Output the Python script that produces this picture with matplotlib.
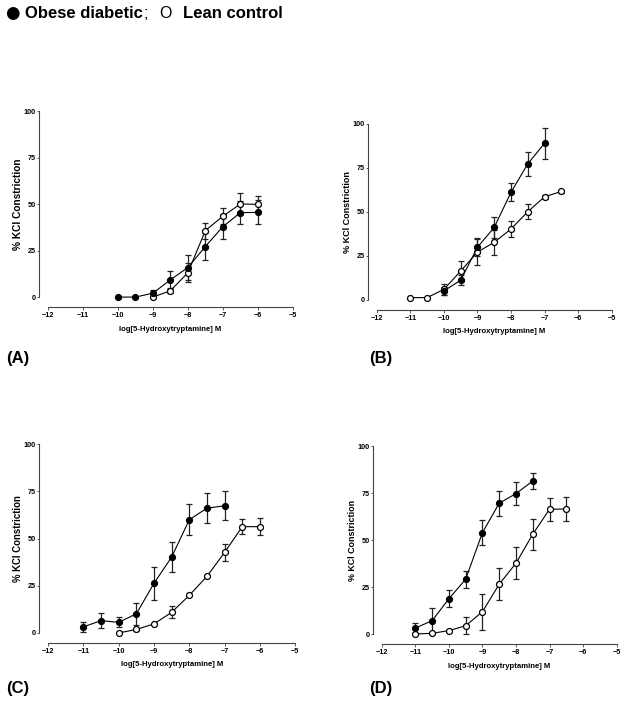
import numpy as np
import matplotlib
matplotlib.use("Agg")
import matplotlib.pyplot as plt

plt.rcParams['font.family'] = ['Liberation Sans', 'DejaVu Sans']

# Panel A
a_obese_x = [-10, -9.5, -9, -8.5, -8, -7.5, -7, -6.5, -6]
a_obese_y = [0, 0, 2.1, 9.3, 15.9, 27.2, 37.9, 45.4, 45.6]
a_obese_e = [0, 0, 1.5, 4.5, 6.5, 7.5, 6.8, 6.2, 6.4]
a_lean_x = [-9, -8.5, -8, -7.5, -7, -6.5, -6]
a_lean_y = [0, 3.4, 13.1, 35.8, 43.5, 50.1, 49.9]
a_lean_e = [0, 1.0, 5.0, 4.3, 4.3, 5.8, 4.3]

# Panel B
b_obese_x = [-10, -9.5, -9, -8.5, -8, -7.5, -7]
b_obese_y = [5.1, 11.2, 29.9, 41.2, 61.1, 77.3, 89.0]
b_obese_e = [2.5, 3.0, 5.0, 5.9, 5.1, 7.0, 8.9]
b_lean_x = [-11, -10.5, -10, -9.5, -9, -8.5, -8, -7.5, -7, -6.5]
b_lean_y = [1.3, 1.3, 6.0, 16.4, 27.2, 32.7, 40.3, 50.1, 58.6, 61.6]
b_lean_e = [0, 0, 3.1, 5.9, 7.5, 7.0, 4.5, 4.2, 1.0, 1.0]

# Panel C
c_obese_x = [-11, -10.5, -10, -9.5, -9, -8.5, -8, -7.5, -7]
c_obese_y = [3.2, 6.5, 5.6, 10.1, 26.3, 40.2, 60.0, 66.1, 67.4]
c_obese_e = [2.7, 4.1, 2.7, 5.8, 8.8, 7.8, 8.1, 7.8, 7.7]
c_lean_x = [-10, -9.5, -9, -8.5, -8, -7.5, -7, -6.5, -6]
c_lean_y = [0, 1.8, 4.8, 10.9, 19.9, 30.0, 42.7, 56.3, 56.3]
c_lean_e = [0, 1.0, 0, 3.2, 0, 0, 4.6, 4.0, 4.5]

# Panel D
d_obese_x = [-11, -10.5, -10, -9.5, -9, -8.5, -8, -7.5]
d_obese_y = [3.2, 7.1, 18.8, 29.2, 54.0, 69.6, 74.7, 81.4]
d_obese_e = [2.7, 7.0, 4.4, 4.5, 6.4, 6.7, 6.0, 4.1]
d_lean_x = [-11, -10.5, -10, -9.5, -9, -8.5, -8, -7.5, -7, -6.5]
d_lean_y = [0, 0.4, 1.8, 4.4, 11.9, 26.5, 37.7, 53.1, 66.4, 66.5]
d_lean_e = [0, 0, 0, 4.4, 9.5, 8.5, 8.5, 8.3, 6.2, 6.6]

xticks = [-12, -11, -10, -9, -8, -7, -6, -5]
yticks = [0, 25, 50, 75, 100]

panels = [
    ([0.0767, 0.578, 0.391, 0.264], 7.3,
     (a_obese_x, a_obese_y, a_obese_e), (a_lean_x, a_lean_y, a_lean_e)),
    ([0.602, 0.574, 0.375, 0.250], 6.5,
     (b_obese_x, b_obese_y, b_obese_e), (b_lean_x, b_lean_y, b_lean_e)),
    ([0.0767, 0.101, 0.395, 0.268], 6.9,
     (c_obese_x, c_obese_y, c_obese_e), (c_lean_x, c_lean_y, c_lean_e)),
    ([0.610, 0.0994, 0.375, 0.267], 6.4,
     (d_obese_x, d_obese_y, d_obese_e), (d_lean_x, d_lean_y, d_lean_e)),
]

fig = plt.figure(figsize=(6.26, 7.04), dpi=100)

for pos, ylab_size, obese, lean in panels:
    ax = fig.add_axes(pos)
    for (x, y, e), face in [(lean, 'white'), (obese, 'black')]:
        ax.errorbar(x, y, yerr=e, fmt='-o', color='black', ecolor='#222222',
                    elinewidth=0.9, capsize=2.5, capthick=0.9, lw=0.8,
                    ms=4.3, mfc=face, mec='black', mew=0.9, clip_on=False)
    ax.set_xlim(-12, -5)
    ax.set_ylim(0, 100)
    ax.set_xticks(xticks)
    ax.set_yticks(yticks)
    for s in ['top', 'right']:
        ax.spines[s].set_visible(False)
    ax.spines['left'].set_position(('outward', 6.5))
    ax.spines['bottom'].set_position(('outward', 7))
    for s in ['left', 'bottom']:
        ax.spines[s].set_color('#444444')
        ax.spines[s].set_linewidth(0.8)
    ax.tick_params(axis='x', length=2, width=0.6, color='#444444', labelsize=5.2, pad=2)
    ax.tick_params(axis='y', length=1.5, width=0.6, color='#444444', labelsize=5.2, pad=0.8)
    for t in ax.get_xticklabels() + ax.get_yticklabels():
        t.set_fontweight('bold')
    ax.set_xlabel('log[5-Hydroxytryptamine] M', fontsize=5.6, fontweight='bold', labelpad=4.5)
    ax.set_ylabel('% KCl Constriction', fontsize=ylab_size, fontweight='bold', labelpad=0.5)

fig.text(6 / 626, 1 - 358 / 704, "(A)", fontsize=12, fontweight='bold', va='center')
fig.text(369 / 626, 1 - 358 / 704, "(B)", fontsize=12, fontweight='bold', va='center')
fig.text(6 / 626, 1 - 688 / 704, "(C)", fontsize=12, fontweight='bold', va='center')
fig.text(369 / 626, 1 - 688 / 704, "(D)", fontsize=12, fontweight='bold', va='center')

# legend line at the top
fig.text(5 / 626, 1 - 13 / 704, "●", fontsize=12, family='DejaVu Sans', va='center')
fig.text(25 / 626, 1 - 14 / 704, "Obese diabetic", fontsize=12,
         fontweight='bold', va='center')
fig.text(144 / 626, 1 - 14 / 704, ";", fontsize=12, va='center')
fig.text(159 / 626, 1 - 14 / 704, "O", fontsize=11.5, va='center')
fig.text(183 / 626, 1 - 14 / 704, "Lean control", fontsize=12,
         fontweight='bold', va='center')

fig.savefig('out.png', dpi=100)
